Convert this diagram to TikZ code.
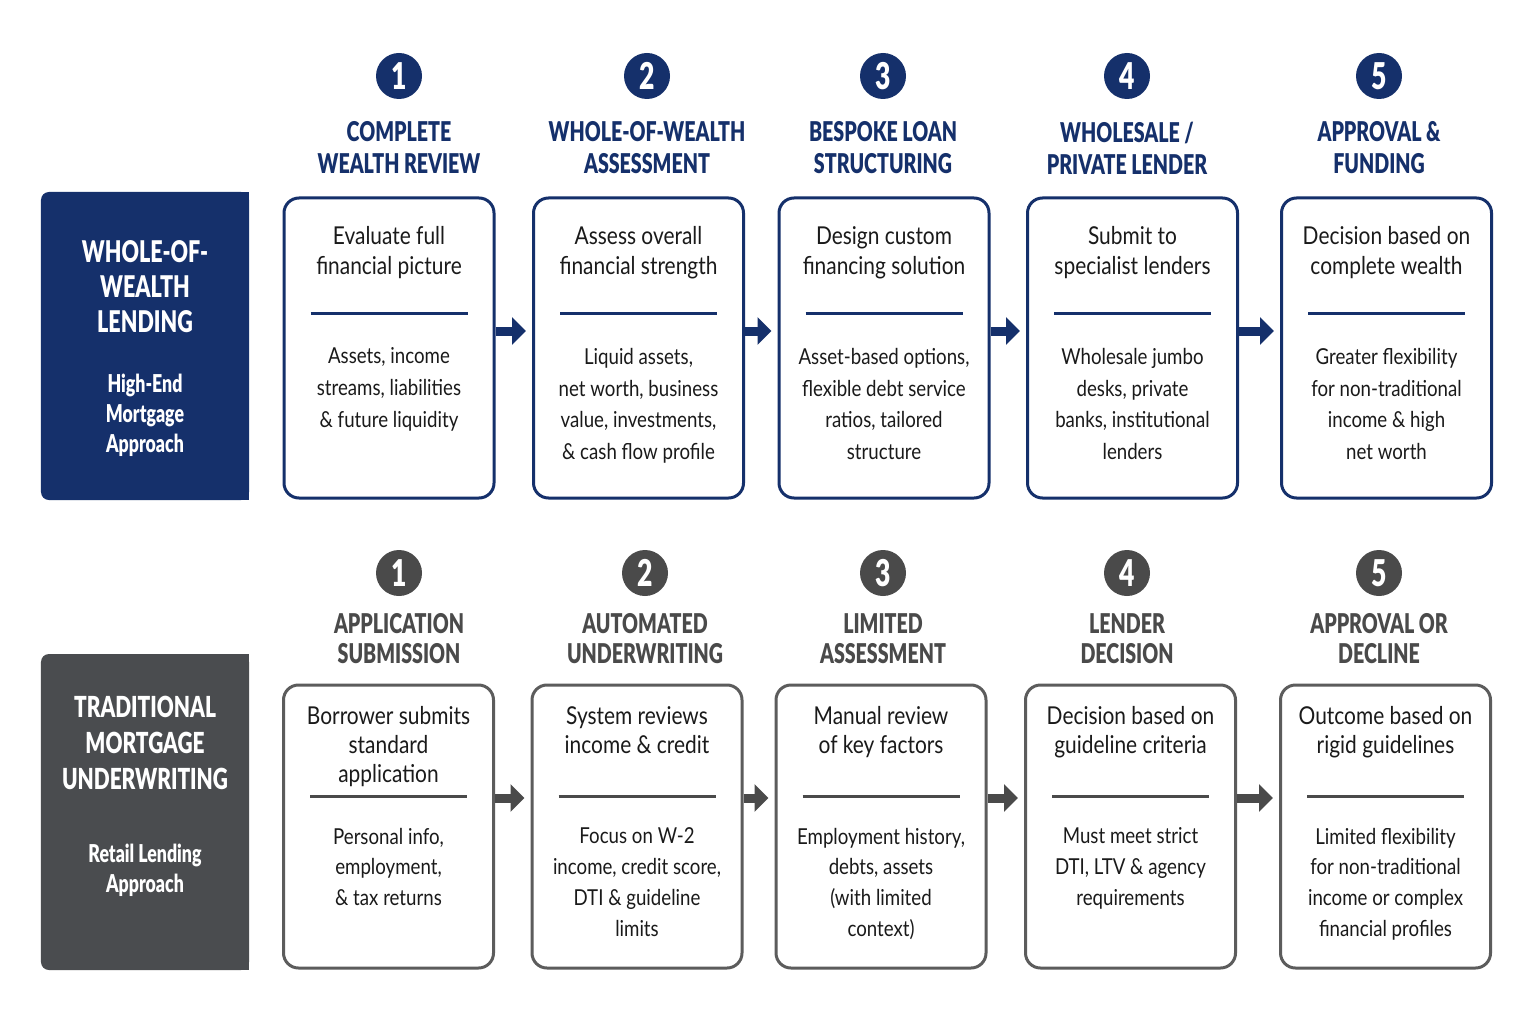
\documentclass[tikz,border=0pt]{standalone}
\usepackage{fontspec}
\setmainfont{Lato}[FakeStretch=0.85, BoldFont={Lato Black},
  BoldFeatures={FakeStretch=0.72}]
\usepackage{tikz}
\usetikzlibrary{positioning}
\usetikzlibrary{arrows.meta}
\definecolor{navy}{HTML}{15306B}
\definecolor{slate}{HTML}{4A4C4F}
\definecolor{graphite}{HTML}{4A4A4A}
\definecolor{ink}{HTML}{1A1A1A}
\tikzstyle{panel} = [rectangle, inner sep=0pt, rounded corners=1.6mm,
    minimum width=41.6mm]
\tikzstyle{ptitle} = [inner sep=0pt, align=center, text=white,
    font=\fontsize{17}{20}\selectfont\bfseries]
\tikzstyle{psub} = [inner sep=0pt, align=center, text=white,
    font=\fontsize{14}{17}\selectfont\bfseries]
\tikzstyle{badge} = [circle, inner sep=0pt, minimum size=9.2mm, text=white,
    font=\fontsize{21}{21}\selectfont\bfseries]
\tikzstyle{phase} = [inner sep=0pt, align=center,
    font=\fontsize{15.5}{18.2}\selectfont\bfseries]
\tikzstyle{card} = [rectangle, line width=0.6mm, rounded corners=3mm,
    minimum width=42mm]
\tikzstyle{lead} = [inner sep=0pt, align=center, text=ink,
    font=\fontsize{14}{17}\selectfont]
\tikzstyle{detail} = [inner sep=0pt, align=center, text=ink,
    font=\fontsize{12.5}{18.2}\selectfont]
\tikzstyle{rule} = [line width=0.5mm]
\tikzstyle{flow} = [line width=1.8mm, -{Triangle[length=2.8mm,width=5.4mm]}]

\begin{document}
\begin{tikzpicture}[x=0.2mm, y=-0.2mm]
  \fill [white] (0,0) rectangle (1535,1019);
  \useasboundingbox (0,0) rectangle (1535,1019);

  % whole-of-wealth row
  \node [panel, fill=navy, minimum height=61.6mm] (wp) at (145,346) {};
  \fill [navy] (wp.north) rectangle (wp.south east);
  \node [ptitle, below=9.6mm of wp.north] (wpt) {WHOLE-OF-\\WEALTH\\LENDING};
  \node [psub, below=36.4mm of wp.north] (wps) {High-End\\Mortgage\\Approach};

  \node [badge, fill=navy] (w1) at (399,76) {1};
  \node [badge, fill=navy] (w2) at (647,76) {2};
  \node [badge, fill=navy] (w3) at (883,76) {3};
  \node [badge, fill=navy] (w4) at (1127,76) {4};
  \node [badge, fill=navy] (w5) at (1379,76) {5};

  \node [phase, text=navy, below=4.4mm of w1] (w1t) {COMPLETE\\WEALTH REVIEW};
  \node [phase, text=navy, below=4.4mm of w2] (w2t) {WHOLE-OF-WEALTH\\ASSESSMENT};
  \node [phase, text=navy, below=4.4mm of w3] (w3t) {BESPOKE LOAN\\STRUCTURING};
  \node [phase, text=navy, below=4.4mm of w4] (w4t) {WHOLESALE /\\PRIVATE LENDER};
  \node [phase, text=navy, below=4.4mm of w5] (w5t) {APPROVAL \&\\FUNDING};

  \node [card, draw=navy, minimum height=60mm] (wb1) at (389,348) {};
  \node [card, draw=navy, minimum height=60mm] (wb2) at (638.5,348) {};
  \node [card, draw=navy, minimum height=60mm] (wb3) at (884,348) {};
  \node [card, draw=navy, minimum height=60mm] (wb4) at (1132.5,348) {};
  \node [card, draw=navy, minimum height=60mm] (wb5) at (1386.5,348) {};

  \node [lead, below=6mm of wb1.north] (wb1l) {Evaluate full\\financial picture};
  \node [lead, below=6mm of wb2.north] (wb2l) {Assess overall\\financial strength};
  \node [lead, below=6mm of wb3.north] (wb3l) {Design custom\\financing solution};
  \node [lead, below=6mm of wb4.north] (wb4l) {Submit to\\specialist lenders};
  \node [lead, below=6mm of wb5.north] (wb5l) {Decision based on\\complete wealth};

  \foreach \b in {wb1,wb2,wb3,wb4,wb5}
    \draw [rule, navy] ([xshift=5.6mm,yshift=-23.4mm]\b.north west)
      -- ([xshift=-5.6mm,yshift=-23.4mm]\b.north east);

  \node [detail, below=30.2mm of wb1.north] (wb1d)
    {Assets, income\\streams, liabilities\\\& future liquidity};
  \node [detail, below=30.2mm of wb2.north] (wb2d)
    {Liquid assets,\\net worth, business\\value, investments,\\\& cash flow profile};
  \node [detail, below=30.2mm of wb3.north] (wb3d)
    {Asset-based options,\\flexible debt service\\ratios, tailored\\structure};
  \node [detail, below=30.2mm of wb4.north] (wb4d)
    {Wholesale jumbo\\desks, private\\banks, institutional\\lenders};
  \node [detail, below=30.2mm of wb5.north] (wb5d)
    {Greater flexibility\\for non-traditional\\income \& high\\net worth};

  \draw [flow, navy] ([yshift=3.4mm]wb1.east) -- ([yshift=3.4mm,xshift=-1.2mm]wb2.west);
  \draw [flow, navy] ([yshift=3.4mm]wb2.east) -- ([yshift=3.4mm,xshift=-1.2mm]wb3.west);
  \draw [flow, navy] ([yshift=3.4mm]wb3.east) -- ([yshift=3.4mm,xshift=-1.2mm]wb4.west);
  \draw [flow, navy] ([yshift=3.4mm]wb4.east) -- ([yshift=3.4mm,xshift=-1.2mm]wb5.west);

  % traditional row
  \begin{scope}[lead/.append style={font=\fontsize{14}{16.5}\selectfont},
      detail/.append style={font=\fontsize{12.5}{17.5}\selectfont},
      phase/.append style={font=\fontsize{15.5}{17}\selectfont\bfseries}]
  \node [panel, fill=slate, minimum height=63.2mm] (tp) at (145,812) {};
  \fill [slate] (tp.north) rectangle (tp.south east);
  \node [ptitle, font=\fontsize{16.5}{20.5}\selectfont\bfseries,
    below=8.4mm of tp.north] (tpt) {TRADITIONAL\\MORTGAGE\\UNDERWRITING};
  \node [psub, below=38mm of tp.north] (tps) {Retail Lending\\Approach};

  \node [badge, fill=graphite] (t1) at (399,573) {1};
  \node [badge, fill=graphite] (t2) at (645,573) {2};
  \node [badge, fill=graphite] (t3) at (883,573) {3};
  \node [badge, fill=graphite] (t4) at (1127,573) {4};
  \node [badge, fill=graphite] (t5) at (1379,573) {5};

  \node [phase, text=graphite, below=3.4mm of t1] (t1t) {APPLICATION\\SUBMISSION};
  \node [phase, text=graphite, below=3.4mm of t2] (t2t) {AUTOMATED\\UNDERWRITING};
  \node [phase, text=graphite, below=3.4mm of t3] (t3t) {LIMITED\\ASSESSMENT};
  \node [phase, text=graphite, below=3.4mm of t4] (t4t) {LENDER\\DECISION};
  \node [phase, text=graphite, below=3.4mm of t5] (t5t) {APPROVAL OR\\DECLINE};

  \node [card, draw=graphite!90, minimum height=56.6mm] (tb1) at (388.5,826.5) {};
  \node [card, draw=graphite!90, minimum height=56.6mm] (tb2) at (637,826.5) {};
  \node [card, draw=graphite!90, minimum height=56.6mm] (tb3) at (881,826.5) {};
  \node [card, draw=graphite!90, minimum height=56.6mm] (tb4) at (1130.5,826.5) {};
  \node [card, draw=graphite!90, minimum height=56.6mm] (tb5) at (1385.5,826.5) {};

  \node [lead, below=4.6mm of tb1.north] (tb1l) {Borrower submits\\standard\\application};
  \node [lead, below=4.6mm of tb2.north] (tb2l) {System reviews\\income \& credit};
  \node [lead, below=4.6mm of tb3.north] (tb3l) {Manual review\\of key factors};
  \node [lead, below=4.6mm of tb4.north] (tb4l) {Decision based on\\guideline criteria};
  \node [lead, below=4.6mm of tb5.north] (tb5l) {Outcome based on\\rigid guidelines};

  \foreach \b in {tb1,tb2,tb3,tb4,tb5}
    \draw [rule, graphite] ([xshift=5.6mm,yshift=-22.6mm]\b.north west)
      -- ([xshift=-5.6mm,yshift=-22.6mm]\b.north east);

  \node [detail, below=28.8mm of tb1.north] (tb1d)
    {Personal info,\\employment,\\\& tax returns};
  \node [detail, below=28.8mm of tb2.north] (tb2d)
    {Focus on W-2\\income, credit score,\\DTI \& guideline\\limits};
  \node [detail, below=28.8mm of tb3.north] (tb3d)
    {Employment history,\\debts, assets\\(with limited\\context)};
  \node [detail, below=28.8mm of tb4.north] (tb4d)
    {Must meet strict\\DTI, LTV \& agency\\requirements};
  \node [detail, below=28.8mm of tb5.north] (tb5d)
    {Limited flexibility\\for non-traditional\\income or complex\\financial profiles};

  \draw [flow, graphite] ([yshift=5.7mm]tb1.east) -- ([yshift=5.7mm,xshift=-1.2mm]tb2.west);
  \draw [flow, graphite] ([yshift=5.7mm]tb2.east) -- ([yshift=5.7mm,xshift=-1.2mm]tb3.west);
  \draw [flow, graphite] ([yshift=5.7mm]tb3.east) -- ([yshift=5.7mm,xshift=-1.2mm]tb4.west);
  \draw [flow, graphite] ([yshift=5.7mm]tb4.east) -- ([yshift=5.7mm,xshift=-1.2mm]tb5.west);
  \end{scope}
\end{tikzpicture}
\end{document}
